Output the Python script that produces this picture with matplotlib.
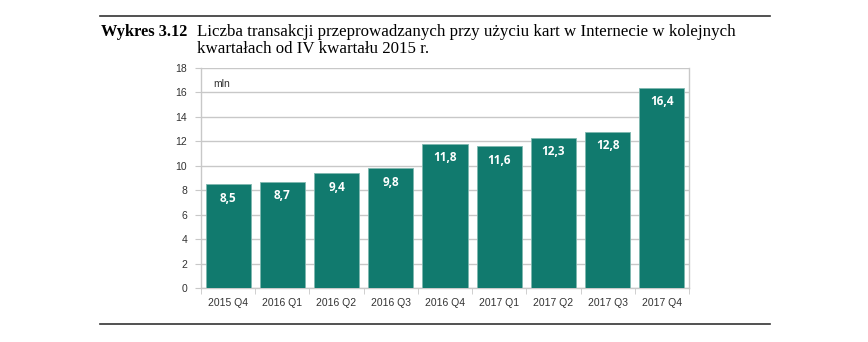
import matplotlib.pyplot as plt
from matplotlib.lines import Line2D

kwartaly = ["2015 Q4", "2016 Q1", "2016 Q2", "2016 Q3", "2016 Q4",
            "2017 Q1", "2017 Q2", "2017 Q3", "2017 Q4"]
transakcje = [8.5, 8.7, 9.4, 9.8, 11.8, 11.6, 12.3, 12.8, 16.4]
y_ticks = [0, 2, 4, 6, 8, 10, 12, 14, 16, 18]

kolor = "#117a6e"
szary = "#c8c8c8"

fig = plt.figure(figsize=(8.68, 3.42), dpi=100)
W, H = 868, 342

# linie poziome nad i pod wykresem
fig.add_artist(Line2D([100 / W, 770 / W], [1 - 16 / H, 1 - 16 / H], color="#333333", lw=1.2))
fig.add_artist(Line2D([100 / W, 770 / W], [1 - 324 / H, 1 - 324 / H], color="#333333", lw=1.2))

serif = ["Liberation Serif", "DejaVu Serif"]
fig.text(101 / W, 1 - 36 / H, "Wykres 3.12", family=serif, weight="bold", fontsize=11.8)
fig.text(197 / W, 1 - 36 / H, "Liczba transakcji przeprowadzanych przy użyciu kart w Internecie w kolejnych",
         family=serif, fontsize=12.2)
fig.text(197 / W, 1 - 53 / H, "kwartałach od IV kwartału 2015 r.", family=serif, fontsize=12.2)

ax = fig.add_axes([201 / W, 1 - 288 / H, (689 - 201) / W, (288 - 68) / H])
x = range(len(kwartaly))
bary = ax.bar(x, transakcje, width=0.83, color=kolor, edgecolor="#7fb8b0", linewidth=0.6, zorder=3)
for b, v in zip(bary, transakcje):
    ax.text(b.get_x() + b.get_width() / 2, v - 1.15, f"{v:.1f}".replace(".", ","),
            ha="center", va="center", color="white", fontsize=8.5, weight="bold",
            family=["Open Sans", "DejaVu Sans"], zorder=4)

ax.set_xlim(-0.5, len(kwartaly) - 0.5)
ax.set_ylim(0, 18)
ax.set_yticks(y_ticks)
ax.set_yticklabels([str(t) for t in y_ticks], family="Liberation Sans", fontsize=7.5, color="#333333")
ax.yaxis.grid(True, color=szary, lw=1, zorder=0)
ax.tick_params(axis="y", length=4, color=szary, pad=6)

ax.set_xticks(list(x))
ax.set_xticklabels(kwartaly, family="Liberation Sans", fontsize=7.5, color="#333333")
ax.tick_params(axis="x", length=0, pad=7)
# kreski między kategoriami
ax.set_xticks([i + 0.5 for i in range(-1, len(kwartaly))], minor=True)
ax.tick_params(axis="x", which="minor", length=4, color=szary)

for s in ax.spines.values():
    s.set_color(szary)
    s.set_linewidth(1)
ax.spines["top"].set_visible(False)

ax.text(0.025, 0.95, "mln", transform=ax.transAxes, family="Liberation Sans",
        fontsize=7.5, color="#333333", va="top")

fig.savefig("out.png", dpi=100)
